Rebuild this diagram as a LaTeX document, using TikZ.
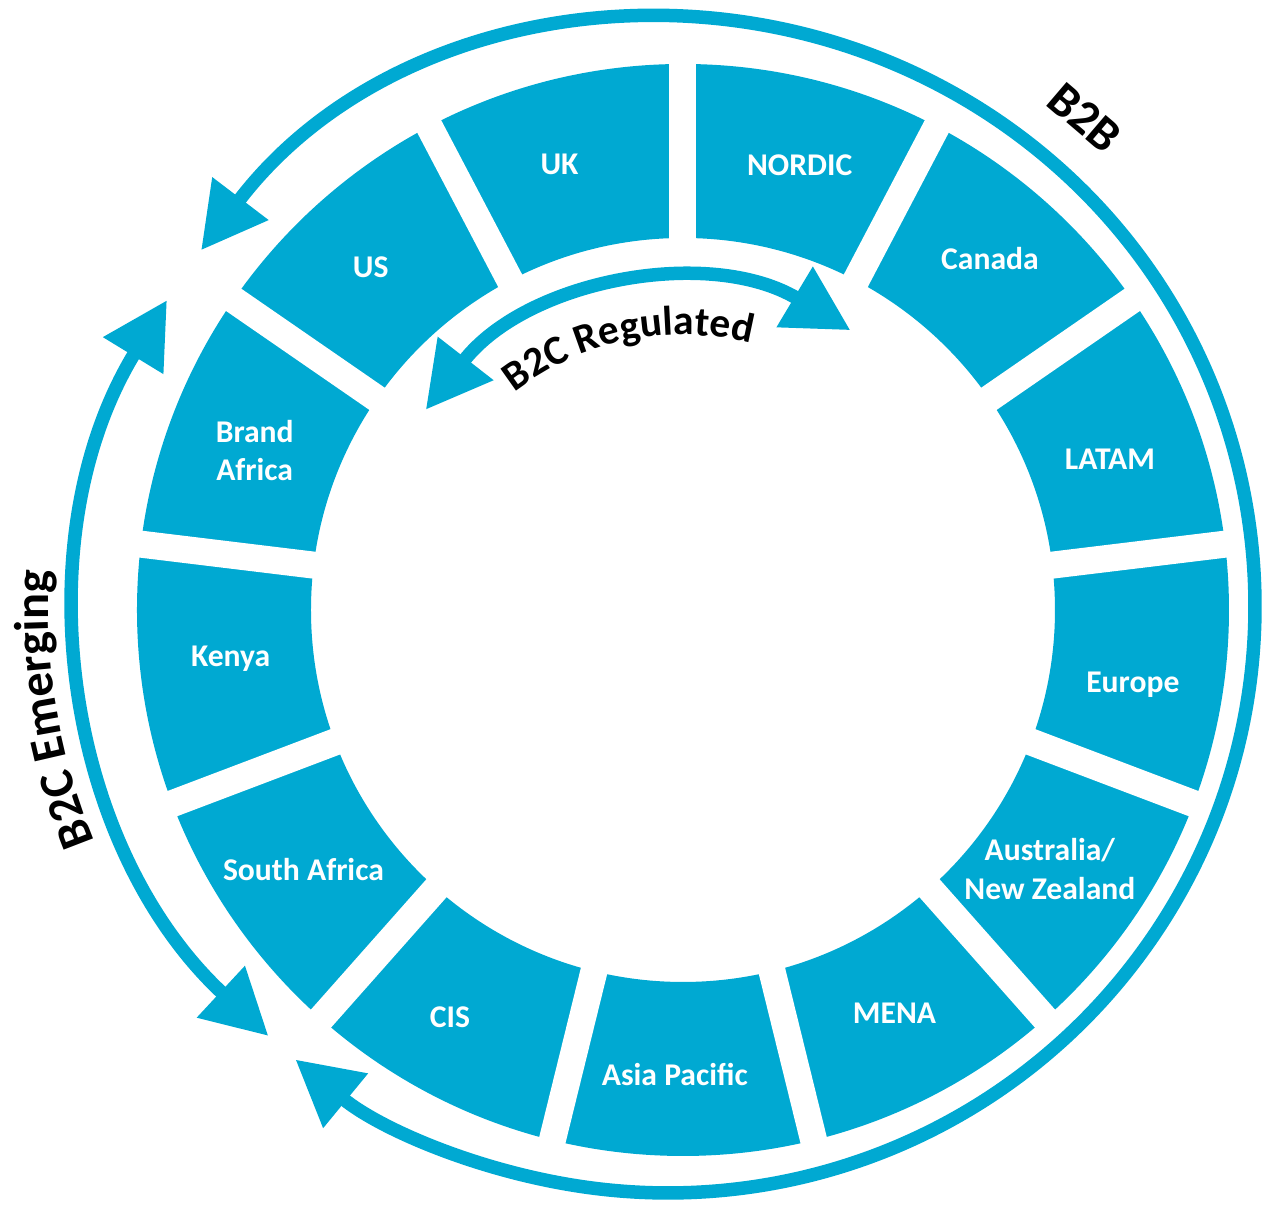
\documentclass[tikz,border=0pt]{standalone}
\usepackage{fontspec}
\setmainfont{Carlito}
\usetikzlibrary{arrows.meta,decorations.text,calc}
\definecolor{ringblue}{RGB}{0,169,210}
\newcommand\cyclefont{\fontsize{13.8}{16}\selectfont\bfseries}
\newcommand\regfont{\fontsize{11.8}{14}\selectfont\bfseries}

\begin{document}
\begin{tikzpicture}[
  region/.style={text=white, font=\fontsize{9}{11}\selectfont\bfseries, align=center},
  cyclearrow/.style={ringblue, line width=0.135cm,
    {Triangle[length=0.65cm,width=0.67cm]}-{Triangle[length=0.65cm,width=0.67cm]}},
 ]
 \useasboundingbox (-6.83,-5.95) rectangle (5.83,6.10);
 \coordinate (ring) at (0,0);
 \coordinate (hub) at (-0.15,0.04);

 \fill[ringblue, even odd rule] (ring) circle (5.46) (ring) circle (3.72);
 \foreach \k in {0,...,12}
  \draw[white, line width=0.27cm] ($(ring)+(90-\k*360/13:3.5)$) -- ($(ring)+(90-\k*360/13:5.6)$);

 \node[region] (uk) at (105.5:4.62) {UK};
 \node[region] (nordic) at (75.3:4.60) {NORDIC};
 \node[region] (canada) at (48.9:4.67) {Canada};
 \node[region] (latam) at (19.5:4.53) {LATAM};
 \node[region] (europe) at (-9.4:4.56) {Europe};
 \node[region] (anz) at (-35.2:4.49) {Australia/\\New Zealand};
 \node[region] (mena) at (-62.3:4.55) {MENA};
 \node[region] (apac) at (-91.0:4.65) {Asia Pacific};
 \node[region] (cis) at (-119.8:4.69) {CIS};
 \node[region] (safrica) at (-145.6:4.60) {South Africa};
 \node[region] (kenya) at (-173.8:4.55) {Kenya};
 \node[region] (bafrica) at (159.6:4.57) {Brand\\Africa};
 \node[region] (us) at (132.3:4.64) {US};

 \draw[cyclearrow] ([shift={(142.7:5.87)}]hub) arc[start angle=142.7, end angle=-129.4, radius=5.87];
 \draw[cyclearrow] ([shift={(148.6:5.87)}]hub) arc[start angle=148.6, end angle=227.1, radius=5.87];
 \draw[cyclearrow] ([shift={(142.1:3.26)}]ring) arc[start angle=142.1, end angle=59.1, radius=3.26];

 \node[font=\cyclefont, rotate=-40.5, inner sep=0pt] (b2b) at ([shift={(49.5:6.42)}]hub) {B2B};
 \path[decorate, decoration={text along path, text align=center, text={|\cyclefont|B2C Emerging}}]
  ([shift={(214:6.2)}]hub) arc[start angle=214, end angle=165, radius=6.2];
 \path[decorate, decoration={text along path, text align=center, text={|\regfont|B2C Regulated}}]
  ([shift={(141.7:2.75)}]ring) arc[start angle=141.7, end angle=61.7, radius=2.75];
\end{tikzpicture}
\end{document}
